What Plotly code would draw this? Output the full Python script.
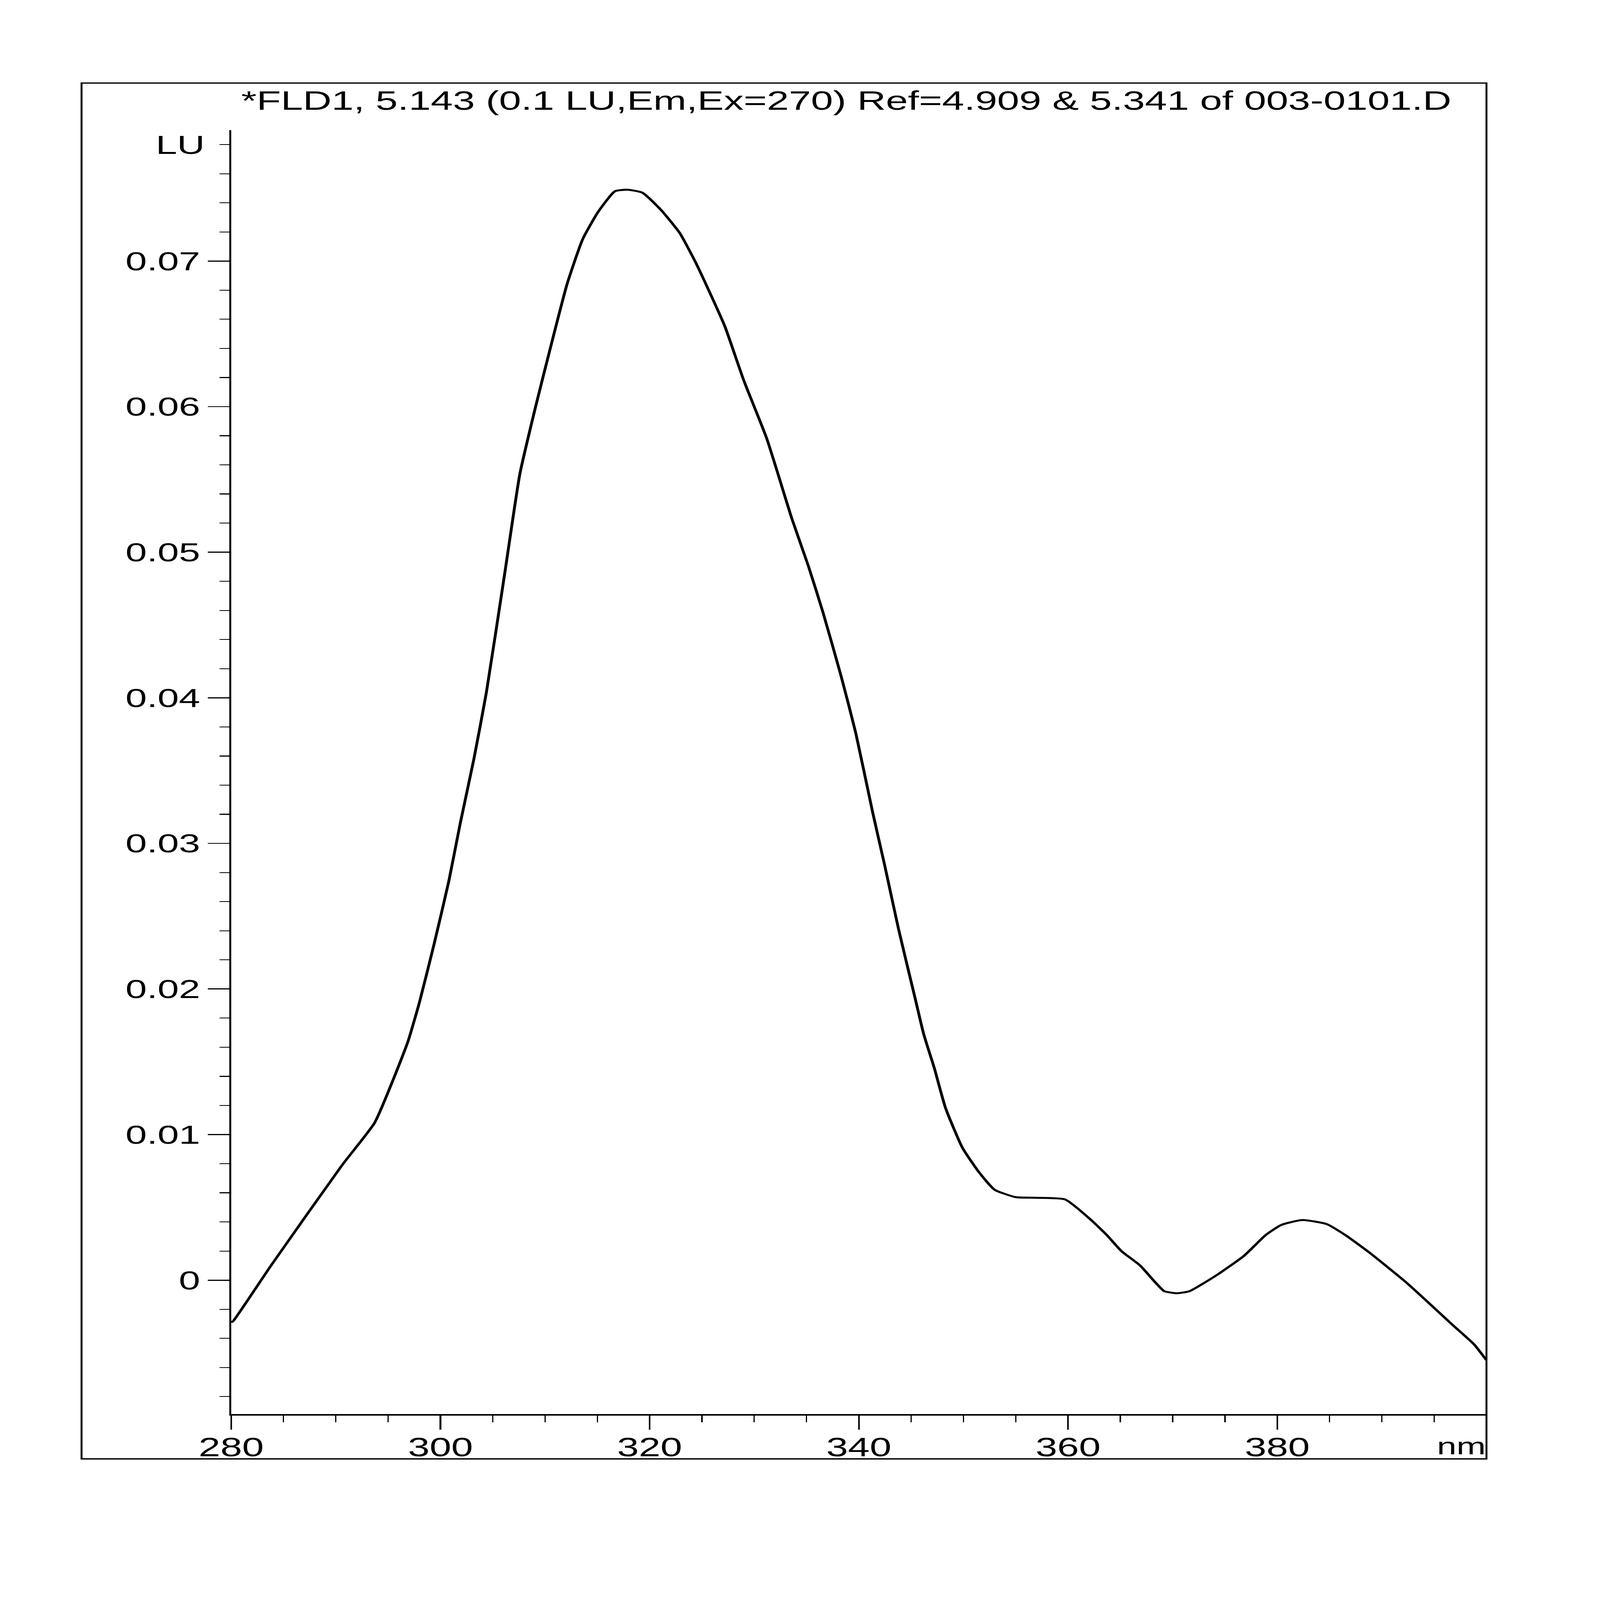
import plotly.graph_objects as go

# emission spectrum (nm, LU)
wavelength = [280.0, 280.2, 283.8, 290.6, 293.7, 295.5, 296.9, 298.0, 299.4, 300.8,
              301.9, 303.2, 304.4, 306.2, 307.6, 309.1, 310.5, 312.1, 313.6, 315.1,
              316.7, 317.9, 319.3, 321.1, 322.9, 324.4, 325.9, 327.2, 329.0, 331.2,
              333.6, 335.2, 336.6, 338.3, 339.7, 341.3, 342.5, 343.8, 345.4,
              346.2, 347.2, 348.3, 349.9, 351.5, 353.0, 355.0, 356.9, 359.7, 362.1,
              363.7, 365.1, 366.9, 368.4, 369.2, 370.4, 371.6, 374.2, 376.8, 378.9,
              380.4, 382.4, 384.7, 386.5, 388.8, 392.4, 396.8, 398.8, 400.0]
intensity = [-0.0029, -0.0028, 0.0010, 0.0079, 0.0108, 0.0138, 0.0164, 0.0191, 0.0231, 0.0274,
             0.0314, 0.0358, 0.0404, 0.0488, 0.0554, 0.0600, 0.0640, 0.0684, 0.0715, 0.0734,
             0.0748, 0.0749, 0.0747, 0.0735, 0.0719, 0.0699, 0.0676, 0.0655, 0.0618, 0.0578,
             0.0523, 0.0490, 0.0458, 0.0415, 0.0376, 0.0322, 0.0284, 0.0241, 0.0193,
             0.0169, 0.0146, 0.0118, 0.0091, 0.0074, 0.0062, 0.0057, 0.00566, 0.00555, 0.0042,
             0.0031, 0.0020, 0.0010, -0.0002, -0.00076, -0.0009, -0.00076, 0.00034, 0.00166, 0.0031,
             0.0038, 0.00413, 0.00386, 0.0031, 0.0019, -0.0002, -0.0031, -0.0044, -0.0055]

x_ticks = [280, 300, 320, 340, 360, 380]
x_labels = ["280", "300", "320", "340", "360", "380"]
y_ticks = [0, 0.01, 0.02, 0.03, 0.04, 0.05, 0.06, 0.07]
y_labels = ["0", "0.01", "0.02", "0.03", "0.04", "0.05", "0.06", "0.07"]

title_text = "*FLD1, 5.143 (0.1 LU,Em,Ex=270) Ref=4.909 & 5.341 of 003-0101.D"

FONT = "Liberation Sans, Arial, sans-serif"
W, H = 5003, 7359

fig = go.Figure()
fig.add_trace(go.Scatter(x=wavelength, y=intensity, mode="lines",
                         line=dict(color="black", width=9, shape="spline", smoothing=0.5),
                         showlegend=False, hoverinfo="skip"))

fig.update_xaxes(range=[280, 400], tickvals=x_ticks, ticktext=x_labels,
                 domain=[723 / W, 4648 / W], automargin=False,
                 showgrid=False, zeroline=False,
                 showline=True, linecolor="black", linewidth=7,
                 ticks="outside", ticklen=65, tickwidth=5, tickcolor="black",
                 ticklabelstandoff=-25,
                 minor=dict(dtick=5, tick0=280, ticks="outside", ticklen=30,
                            tickwidth=4, tickcolor="black", showgrid=False),
                 tickfont=dict(family=FONT, size=122, color="black"))
fig.update_yaxes(range=[-0.0092, 0.079], tickvals=y_ticks, ticktext=y_labels,
                 domain=[1 - 6504 / H, 1 - 598 / H], automargin=False,
                 showgrid=False, zeroline=False,
                 showline=True, linecolor="black", linewidth=6,
                 ticks="outside", ticklen=67, tickwidth=5, tickcolor="black",
                 minor=dict(dtick=0.002, tick0=0, ticks="outside", ticklen=30,
                            tickwidth=4, tickcolor="black", showgrid=False),
                 tickfont=dict(family=FONT, size=120, color="black"))

# outer frame of the printout
fig.add_shape(type="rect", xref="paper", yref="paper",
              x0=255 / W, x1=4648 / W, y0=1 - 6710 / H, y1=1 - 382 / H,
              line=dict(color="black", width=6), fillcolor="rgba(0,0,0,0)")

fig.add_annotation(text=title_text, xref="paper", yref="paper",
                   x=2646 / W, y=1 - 462 / H, xanchor="center", yanchor="middle",
                   showarrow=False, font=dict(family=FONT, size=124, color="black"))
fig.add_annotation(text="LU", xref="paper", yref="y", x=642 / W, y=0.078,
                   xanchor="right", yanchor="middle",
                   showarrow=False, font=dict(family=FONT, size=120, color="black"))
fig.add_annotation(text="nm", xref="paper", yref="paper", x=4648 / W, y=1 - 6650 / H,
                   xanchor="right", yanchor="middle",
                   showarrow=False, font=dict(family=FONT, size=110, color="black"))

fig.update_layout(width=W, height=H,
                  margin=dict(l=0, r=0, t=0, b=0, autoexpand=False),
                  paper_bgcolor="white", plot_bgcolor="white")

# the page is fitted to whatever window it is opened in
fit_page = """
document.documentElement.style.overflow = 'hidden';
document.body.style.margin = '0';
document.body.style.overflow = 'hidden';
var gd = document.getElementById('{plot_id}');
gd.style.position = 'fixed';
gd.style.left = '0px';
gd.style.top = '0px';
gd.style.transformOrigin = '0 0';
gd.style.transform = 'scale(' + (window.innerWidth / %d) + ',' + (window.innerHeight / %d) + ')';
""" % (W, H)

fig.write_html("out.html", post_script=fit_page, config={"displayModeBar": False})
